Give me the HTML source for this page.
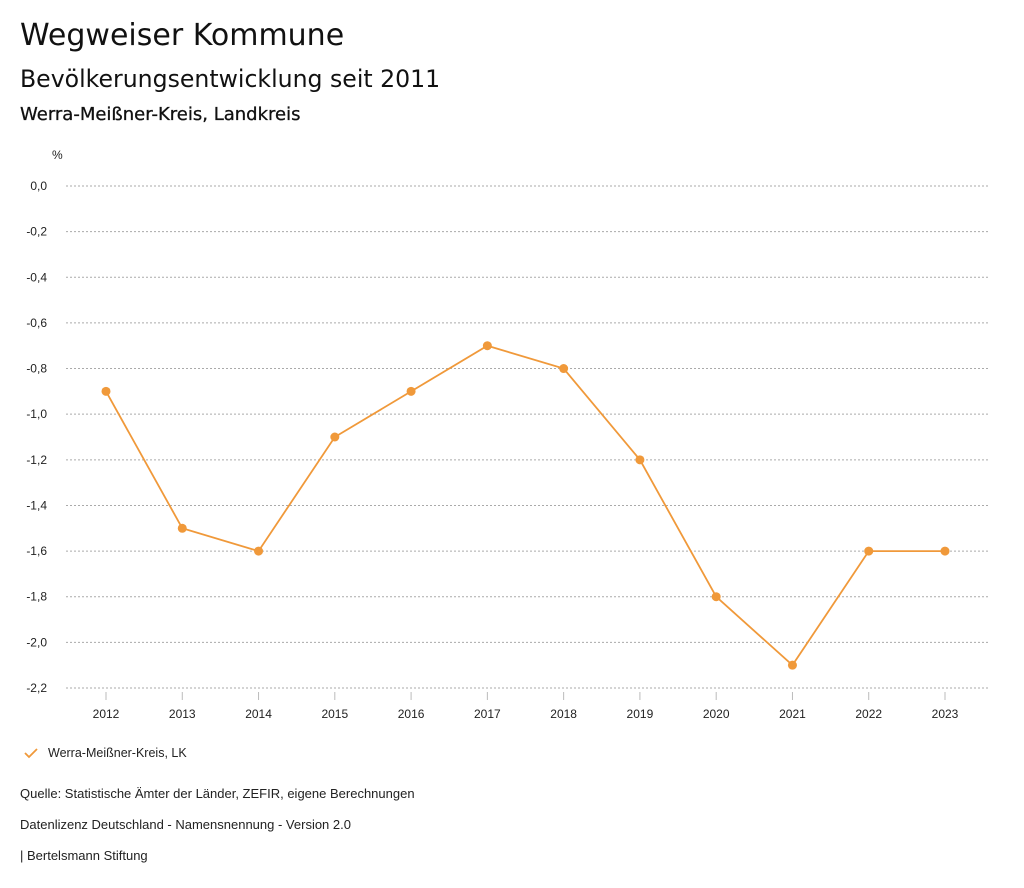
<!DOCTYPE html>
<html><head><meta charset="utf-8"><style>
body{margin:0;background:#fff;width:1024px;height:888px;overflow:hidden;font-family:"Liberation Sans",sans-serif;color:#111}
.t{position:absolute;white-space:nowrap}
</style></head><body>
<div class="t" style="left:20px;top:18px;font-size:30px;font-family:'DejaVu Sans',sans-serif">Wegweiser Kommune</div>
<div class="t" style="left:20px;top:65px;font-size:23.6px;font-family:'DejaVu Sans',sans-serif">Bevölkerungsentwicklung seit 2011</div>
<div class="t" style="left:20px;top:104px;font-size:18px;font-family:'DejaVu Sans',sans-serif;-webkit-text-stroke:0.3px #111">Werra-Meißner-Kreis, Landkreis</div>
<svg id="chart" width="1024" height="888" style="position:absolute;left:0;top:0">
<text x="52" y="159" font-size="12" fill="#222" font-family="Liberation Sans, sans-serif">%</text>
</svg>
<svg width="14" height="12" style="position:absolute;left:24px;top:748px"><path d="M1 5 L5 9 L13 1" stroke="#f0993a" stroke-width="1.8" fill="none"/></svg>
<div class="t" style="left:48px;top:746px;font-size:12.5px;color:#222">Werra-Meißner-Kreis, LK</div>
<div class="t" style="left:20px;top:786px;font-size:13px;color:#222">Quelle: Statistische Ämter der Länder, ZEFIR, eigene Berechnungen</div>
<div class="t" style="left:20px;top:817px;font-size:13px;color:#222">Datenlizenz Deutschland - Namensnennung - Version 2.0</div>
<div class="t" style="left:20px;top:848px;font-size:13px;color:#222">| Bertelsmann Stiftung</div>
<script>
const years=["2012","2013","2014","2015","2016","2017","2018","2019","2020","2021","2022","2023"];
const values=[-0.9,-1.5,-1.6,-1.1,-0.9,-0.7,-0.8,-1.2,-1.8,-2.1,-1.6,-1.6];
const yTicks=[0,-0.2,-0.4,-0.6,-0.8,-1.0,-1.2,-1.4,-1.6,-1.8,-2.0,-2.2];
const svg=document.getElementById('chart');const NS='http://www.w3.org/2000/svg';
const y=v=>186+(0-v)/2.2*502;
const x=i=>106+i*(945-106)/(years.length-1);
function mk(t,a){const e=document.createElementNS(NS,t);for(const k in a)e.setAttribute(k,a[k]);svg.appendChild(e);return e;}
yTicks.forEach(v=>{
 const l=mk('line',{x1:66,x2:990,y1:y(v),y2:y(v),stroke:'#aaa','stroke-dasharray':'2,2','stroke-width':1});
 
 
 const t=mk('text',{x:47,y:y(v)+4,'text-anchor':'end','font-size':12,fill:'#222','font-family':'Liberation Sans, sans-serif'});
 t.textContent=v.toFixed(1).replace('.',',').replace('-0,0','0,0');
 
 
});
years.forEach((yr,i)=>{
 const l=mk('line',{x1:x(i),x2:x(i),y1:692,y2:700,stroke:'#bbb'});
 
 
 const t=mk('text',{x:x(i),y:718,'text-anchor':'middle','font-size':12,fill:'#222','font-family':'Liberation Sans, sans-serif'});
 t.textContent=yr;
 
 
});
const p=mk('polyline',{points:values.map((v,i)=>x(i)+','+y(v)).join(' '),fill:'none',stroke:'#f0993a','stroke-width':1.8});


values.forEach((v,i)=>{
 const c=mk('circle',{cx:x(i),cy:y(v),r:4.5,fill:'#f0993a'});
 
 
});
</script>
</body></html>
